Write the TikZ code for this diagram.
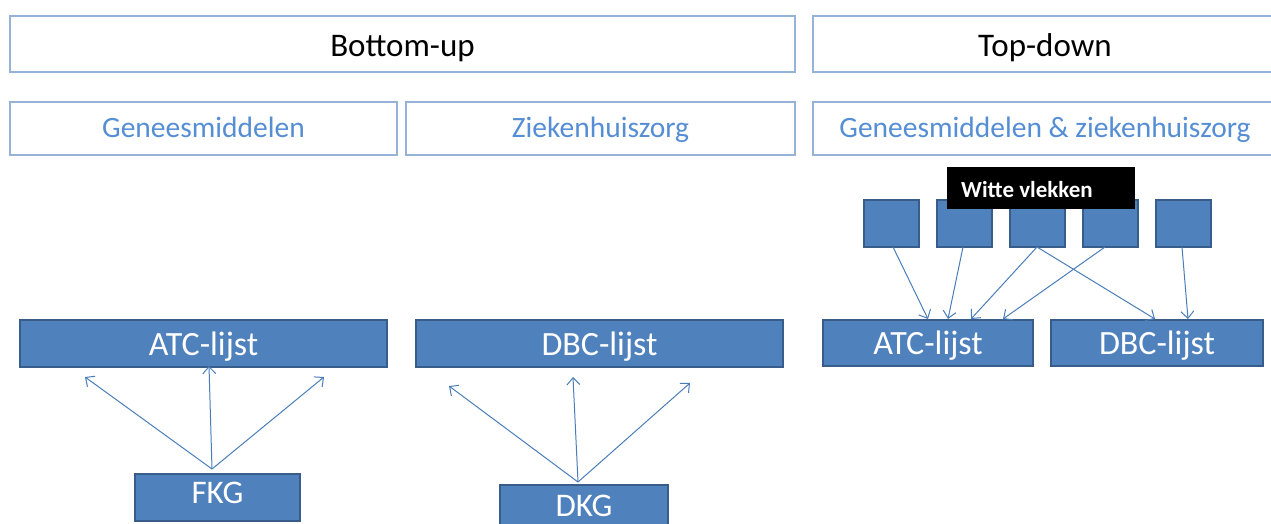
\documentclass[tikz,border=0pt]{standalone}
\usepackage{fontspec}
\setmainfont{Carlito}
\usetikzlibrary{arrows.meta}
\definecolor{hdrline}{HTML}{95B3D7}
\definecolor{hdrtext}{HTML}{558ED5}
\definecolor{boxfill}{HTML}{4F81BD}
\definecolor{boxline}{HTML}{385D8A}
\definecolor{arrowc}{HTML}{4A7EBB}
\tikzset{
  hdr/.style={draw=hdrline, line width=1.2pt, fill=white, inner sep=0pt, anchor=center},
  title/.style={hdr, minimum height=56pt, text height=26pt, text depth=0pt, font=\fontsize{33}{33}\selectfont},
  sub/.style={hdr, minimum height=53pt, text=hdrtext, text height=19pt, text depth=0pt, font=\fontsize{29.5}{29.5}\selectfont},
  bluebox/.style={draw=boxline, line width=2pt, fill=boxfill, text=white, inner sep=0pt, anchor=center},
  listbox/.style={bluebox, minimum height=47pt, text height=23pt, text depth=0pt, font=\fontsize{34}{34}\selectfont},
  conn/.style={draw=arrowc, line width=1pt, -{Straight Barb[length=7pt,width=13pt]}},
}
\begin{document}
\begin{tikzpicture}[x=1pt,y=-1pt]
\useasboundingbox (0,0) rectangle (1271,524);
\fill[white] (0,0) rectangle (1271,524);
% headers
\node[title, minimum width=785pt] (bu) at (402.5,44) {Bottom-up};
\node[title, minimum width=464pt] (td) at (1045,44) {Top-down};
\node[sub, minimum width=387pt] (gm) at (203.5,128.5) {Geneesmiddelen};
\node[sub, minimum width=389pt] (zk) at (600.5,128.5) {Ziekenhuiszorg};
\node[sub, minimum width=464pt] (gz) at (1045,128.5) {Geneesmiddelen \& ziekenhuiszorg};
% bottom-up boxes
\node[listbox, minimum width=367pt] (atcL) at (203.5,343.5) {ATC-lijst};
\node[listbox, minimum width=367pt] (dbcM) at (599.5,343.5) {DBC-lijst};
\node[listbox, minimum width=165pt, text height=12pt, font=\fontsize{33}{33}\selectfont] (fkg) at (217.5,497) {FKG};
\node[listbox, minimum width=168pt, text height=16pt, font=\fontsize{33}{33}\selectfont] (dkg) at (584,508.5) {DKG};
% top-down boxes
\node[listbox, minimum width=210pt, minimum height=46pt] (atcR) at (928,342.5) {ATC-lijst};
\node[listbox, minimum width=212pt, minimum height=46pt] (dbcR) at (1157,342.5) {DBC-lijst};
\foreach \i/\x in {1/891,2/964,3/1037,4/1110,5/1183}
  \node[bluebox, minimum width=55pt, minimum height=47pt] (sq\i) at (\x,223.5) {};
\node[fill=black, text=white, inner sep=0pt, minimum width=188pt, minimum height=42pt, text height=18pt, text depth=0pt, font=\bfseries\fontsize{23}{23}\selectfont] (wv) at (1041,188) {\hspace*{-28pt}Witte vlekken};
% coordinates
\coordinate (fks) at (212,469);
\coordinate (fk1) at (85,377);
\coordinate (fk2) at (209,366);
\coordinate (fk3) at (324,377);
\coordinate (dks) at (578,482);
\coordinate (dk1) at (449,386);
\coordinate (dk2) at (573,377);
\coordinate (dk3) at (690,383);
\coordinate (s1) at (893,247);
\coordinate (s2) at (963,247);
\coordinate (s3) at (1037,247);
\coordinate (s4) at (1105,247);
\coordinate (s5) at (1182,247);
\coordinate (a1) at (928,319);
\coordinate (a2) at (948,319);
\coordinate (a3) at (971,319);
\coordinate (a4) at (1003,319);
\coordinate (b1) at (1155,319);
\coordinate (b2) at (1188,319);
% connectors
\draw[conn] (fks) -- (fk1);
\draw[conn] (fks) -- (fk2);
\draw[conn] (fks) -- (fk3);
\draw[conn] (dks) -- (dk1);
\draw[conn] (dks) -- (dk2);
\draw[conn] (dks) -- (dk3);
\draw[conn] (s1) -- (a1);
\draw[conn] (s2) -- (a2);
\draw[conn] (s3) -- (a3);
\draw[conn] (s3) -- (b1);
\draw[conn] (s4) -- (a4);
\draw[conn] (s5) -- (b2);
\end{tikzpicture}
\end{document}
